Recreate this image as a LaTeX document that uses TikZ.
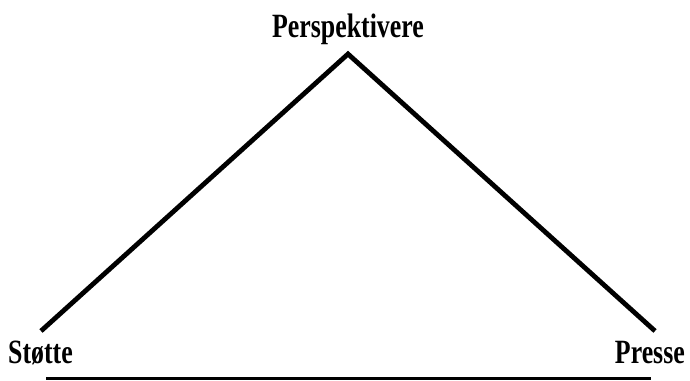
\documentclass[tikz,border=0pt]{standalone}
\usepackage{fontspec}
\setmainfont[FakeStretch=0.76]{Liberation Serif}
\tikzset{
  label text/.style={inner sep=0pt,font=\fontsize{34}{38}\selectfont\bfseries},
  leg/.style={line width=4.8pt},
}
\begin{document}
\begin{tikzpicture}[x=1pt,y=-1pt]
\useasboundingbox (0,0) rectangle (690,380);
% trekant
\coordinate (top) at (348,54);
\coordinate (left) at (41,331);
\coordinate (right) at (655,331);
\draw[leg,line join=miter] (left) -- (top) -- (right);
\node[label text,anchor=base] (persp) at (348,37) {Perspektivere};
\node[label text,anchor=base west] (stoette) at (8,363) {Støtte};
\node[label text,anchor=base east] (presse) at (685,363) {Presse};
% grundlinje
\coordinate (base-l) at (46,378.5);
\coordinate (base-r) at (651,378.5);
\draw[line width=3pt] (base-l) -- (base-r);
\end{tikzpicture}
\end{document}
